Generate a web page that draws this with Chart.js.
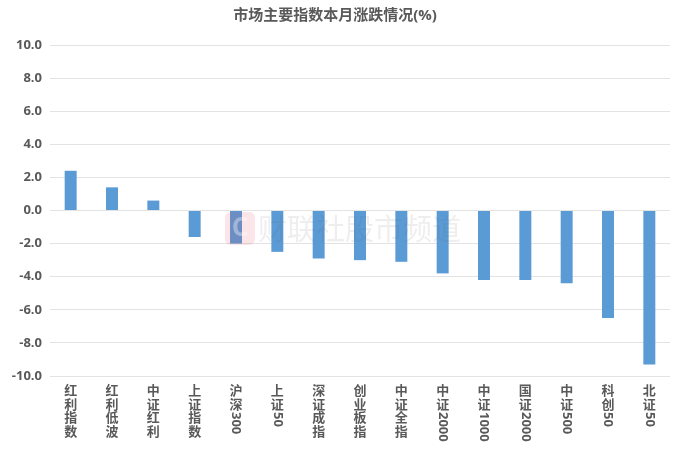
<!DOCTYPE html>
<html>
<head>
<meta charset="utf-8">
<script src="https://cdn.jsdelivr.net/npm/chart.js@4/dist/chart.umd.min.js"></script>
<style>
  html, body { margin: 0; padding: 0; background: #fff; }
  #wrap { width: 692px; height: 450px; }
</style>
</head>
<body>
<div id="wrap"><canvas id="c" width="692" height="450"></canvas></div>
<script>
// 指数名称
const categories = ['红利指数', '红利低波', '中证红利', '上证指数', '沪深300', '上证50', '深证成指',
    '创业板指', '中证全指', '中证2000', '中证1000', '国证2000', '中证500', '科创50', '北证50'];
// 本月涨跌幅 (%)
const changes = [2.4, 1.4, 0.6, -1.6, -2.0, -2.5, -2.9, -3.0, -3.1, -3.8, -4.2, -4.2, -4.4, -6.5, -9.3];
const yMin = -10;
const yMax = 10;
const yStep = 2;

const FONT = '"Open Sans", "Noto Sans CJK SC", sans-serif';
const TEXT = '#595959';

// 竖排标签: 汉字直立, 数字旋转
const verticalLabels = {
    id: 'verticalLabels',
    afterDraw(chart) {
        const ctx = chart.ctx;
        const xs = chart.scales.x;
        const top = chart.chartArea.bottom + 9;
        ctx.save();
        ctx.fillStyle = TEXT;
        ctx.font = 'bold 13px ' + FONT;
        categories.forEach((lab, i) => {
            const x = xs.getPixelForValue(i);
            let y = top;
            for (const ch of lab) {
                if (/[\u4e00-\u9fff]/.test(ch)) {
                    ctx.textAlign = 'center';
                    ctx.textBaseline = 'middle';
                    ctx.fillText(ch, x, y + 6.5);
                    y += 13.5;
                } else {
                    const w = ctx.measureText(ch).width;
                    ctx.save();
                    ctx.translate(x, y + w / 2);
                    ctx.rotate(Math.PI / 2);
                    ctx.textAlign = 'center';
                    ctx.textBaseline = 'middle';
                    ctx.fillText(ch, 0, 0);
                    ctx.restore();
                    y += w;
                }
            }
        });
        ctx.restore();
    }
};

// 水印
const watermark = {
    id: 'watermark',
    afterDatasetsDraw(chart) {
        const ctx = chart.ctx;
        ctx.save();
        ctx.globalAlpha = 0.13;
        ctx.fillStyle = '#e8344e';
        ctx.beginPath();
        ctx.roundRect(225, 212, 30, 33, 6);
        ctx.fill();
        ctx.globalAlpha = 0.35;
        ctx.fillStyle = '#ffffff';
        ctx.font = 'bold 26px ' + FONT;
        ctx.textAlign = 'center';
        ctx.textBaseline = 'middle';
        ctx.fillText('C', 240, 229);
        ctx.globalAlpha = 0.1;
        ctx.fillStyle = '#555';
        ctx.font = '29px "Noto Sans CJK SC", sans-serif';
        ctx.textAlign = 'left';
        ctx.fillText('财联社股市频道', 258, 229);
        ctx.restore();
    }
};

new Chart(document.getElementById('c'), {
    type: 'bar',
    data: {
        labels: categories,
        datasets: [{
            data: changes,
            backgroundColor: '#5b9bd5',
            borderWidth: 0,
            barPercentage: 0.58,
            categoryPercentage: 0.5
        }]
    },
    options: {
        responsive: false,
        animation: false,
        layout: { padding: { left: 0, right: 22, top: 0, bottom: 0 } },
        plugins: {
            legend: { display: false },
            tooltip: { enabled: false },
            title: {
                display: true,
                text: '市场主要指数本月涨跌情况(%)',
                color: TEXT,
                font: { family: FONT, size: 15, weight: 'bold' },
                padding: { top: 7, bottom: 20 }
            }
        },
        scales: {
            x: {
                grid: { display: false, drawTicks: false },
                border: { display: false },
                ticks: { display: false },
                afterFit: s => { s.height = 74; }
            },
            y: {
                min: yMin,
                max: yMax,
                grid: { color: '#e3e3e3', drawTicks: false },
                border: { display: false },
                ticks: {
                    stepSize: yStep,
                    padding: 8,
                    color: TEXT,
                    font: { family: FONT, size: 13, weight: 'bold' },
                    callback: v => v.toFixed(1)
                },
                afterFit: s => { s.width = 50; }
            }
        }
    },
    plugins: [verticalLabels, watermark]
});
</script>
</body>
</html>
